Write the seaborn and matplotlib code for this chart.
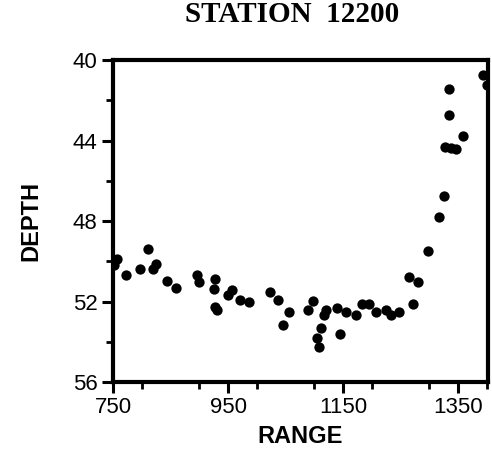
import matplotlib
matplotlib.use("Agg")
import matplotlib.pyplot as plt
import seaborn as sns
import pandas as pd
from matplotlib.ticker import MultipleLocator

# --- datos ---
rango = [757, 752, 773, 797, 810, 825, 819, 844, 859, 896, 900, 928, 925, 928, 930,
         950, 957, 970, 986, 1023, 1037, 1056, 1046, 1089, 1098, 1120, 1116, 1111,
         1104, 1108, 1140, 1155, 1145, 1172, 1183, 1195, 1207, 1224, 1233, 1248,
         1265, 1280, 1271, 1298, 1317, 1325, 1327, 1338, 1346, 1358, 1335, 1335,
         1393, 1400]
profundidad = [49.9, 50.2, 50.7, 50.4, 49.4, 50.15, 50.4, 51.0, 51.35, 50.7, 51.05,
               50.9, 51.4, 52.25, 52.4, 51.7, 51.45, 51.9, 52.0, 51.55, 51.9, 52.5,
               53.15, 52.4, 51.95, 52.4, 52.65, 53.3, 53.8, 54.25, 52.3, 52.5, 53.6,
               52.65, 52.1, 52.1, 52.5, 52.4, 52.65, 52.5, 50.8, 51.05, 52.1, 49.5,
               47.8, 46.75, 44.3, 44.35, 44.4, 43.8, 42.75, 41.45, 40.75, 41.25]
ticks_x = [750, 950, 1150, 1350]
ticks_y = [40, 44, 48, 52, 56]
titulo = "STATION  12200"

df = pd.DataFrame({"RANGE": rango, "DEPTH": profundidad})

sns.set_style("ticks")
plt.rcParams["font.family"] = ["Liberation Sans", "DejaVu Sans"]
plt.rcParams["text.color"] = "black"

fig = plt.figure(figsize=(4.92, 4.53), dpi=100)
ax = fig.add_axes([0.2297, 0.1567, 0.9919 - 0.2297, 0.8675 - 0.1567])

sns.scatterplot(data=df, x="RANGE", y="DEPTH", ax=ax, color="black",
                s=55, edgecolor="black", linewidth=0, legend=False)

ax.set_xlim(750, 1402)
ax.set_ylim(56, 40)
ax.set_xticks(ticks_x)
ax.set_yticks(ticks_y)
ax.xaxis.set_minor_locator(MultipleLocator(100))
ax.yaxis.set_minor_locator(MultipleLocator(2))
ax.tick_params(which="major", direction="out", length=8, width=2.2,
               labelsize=16, colors="black", labelcolor="black", pad=3)
ax.tick_params(which="minor", direction="out", length=5, width=2, colors="black")
for s in ax.spines.values():
    s.set_linewidth(3)
    s.set_color("black")

ax.set_xlabel("RANGE", fontsize=17, fontweight="bold", color="black", labelpad=5)
ax.set_ylabel("DEPTH", fontsize=17, fontweight="bold", color="black", labelpad=22)

fig.text(0.593, 0.968, titulo, ha="center", va="center", fontsize=21,
         fontweight="bold", family="Liberation Serif", color="black")

fig.savefig("out.png", dpi=100, facecolor="white")
